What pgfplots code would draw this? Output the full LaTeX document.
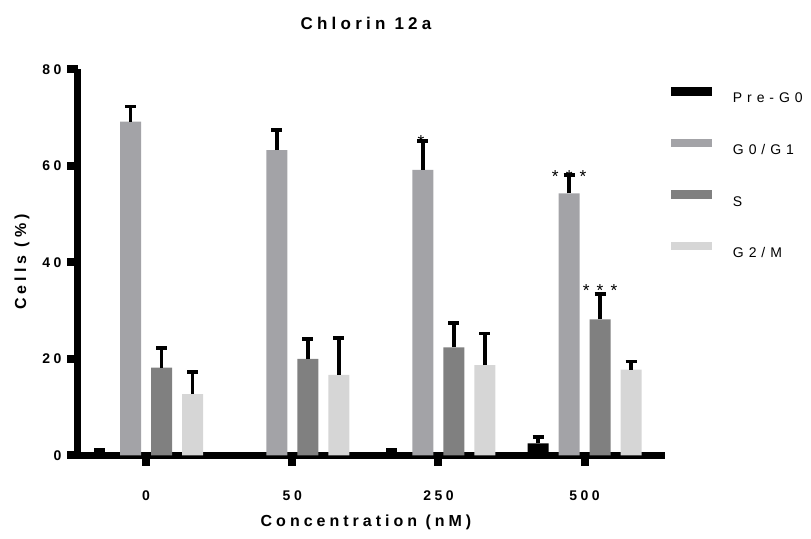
\documentclass[border=0pt]{standalone}
\usepackage{pgfplots}
\pgfplotsset{compat=1.18}
\usepackage{fontspec}
\setmainfont{Liberation Sans}
\newfontfamily\lsfont[LetterSpace=25]{Liberation Sans}
\newfontfamily\legfont[LetterSpace=35]{Liberation Sans}
\definecolor{cA}{RGB}{0,0,0}
\definecolor{cB}{RGB}{163,163,167}
\definecolor{cC}{RGB}{128,128,128}
\definecolor{cD}{RGB}{214,214,214}
\begin{document}
\begin{tikzpicture}
\path[use as bounding box] (-58.5pt,-62.6pt) rectangle (549.75pt,341.6pt);
\begin{axis}[
  at={(0,0)}, anchor=south west,
  scale only axis, width=440.25pt, height=289.5pt,
  xmin=-0.466, xmax=3.55, ymin=0, ymax=80,
  axis x line*=bottom, axis y line*=left,
  axis line style={line width=5.25pt, black},
  ybar=7.5pt, bar width=15.75pt,
  xtick={0,1,2,3}, xticklabels={0,50,250,500},
  ytick={0,20,40,60,80},
  tick align=outside, major tick length=7.9pt,
  tick style={line width=6pt, black},
  ticklabel style={font=\lsfont\bfseries\fontsize{10.5}{12}\selectfont},
  /pgf/number format/assume math mode=true,
  yticklabel style={xshift=-1pt},
  xticklabel style={yshift=-15pt},
  clip=false,
  legend style={at={(1.0102,0.954)}, anchor=north west, draw=none, fill=none,
    inner sep=0pt, outer sep=0pt, row sep=26.95pt, column sep=15.75pt,
    nodes={inner sep=0pt, outer sep=0pt, text height=7.5pt, text depth=0pt,
      font=\legfont\fontsize{10.5}{12}\selectfont}},
  legend cell align=left,
  legend image code/.code={\fill[#1] (0pt,1.7pt) rectangle (30.75pt,8pt);},
  error bars/y dir=plus, error bars/y explicit,
  error bars/error mark=|,
  error bars/error bar style={line width=2.6pt, draw=black, solid},
  error bars/error mark options={line width=2.8pt, mark size=4.1pt, draw=black, black},
]
\addplot[fill=cA, draw=none] coordinates {(0,0.3) +- (0,0.9) (2,0.3) +- (0,0.9) (3,2.5) +- (0,1.4)};
\addplot[fill=cB, draw=none] coordinates {(0,69.2) +- (0,3.1) (1,63.3) +- (0,4.2) (2,59.2) +- (0,6.0) (3,54.3) +- (0,3.8)};
\addplot[fill=cC, draw=none] coordinates {(0,18.2) +- (0,4.1) (1,20.0) +- (0,4.1) (2,22.4) +- (0,5.0) (3,28.2) +- (0,5.2)};
\addplot[fill=cD, draw=none] coordinates {(0,12.7) +- (0,4.6) (1,16.7) +- (0,7.7) (2,18.7) +- (0,6.6) (3,17.8) +- (0,1.7)};
\legend{Pre-G0, G0/G1, S, G2/M}
\node[font=\fontsize{13}{14}\selectfont, anchor=base, inner sep=0pt] at ([xshift=-13pt]axis cs:2,63.9) {*};
\node[font=\fontsize{13}{14}\selectfont, anchor=base, inner sep=0pt] at ([xshift=-11.6pt]axis cs:3,56.5) {*\hspace{5.3pt}*\hspace{5.3pt}*};
\node[font=\fontsize{13}{14}\selectfont, anchor=base, inner sep=0pt] at ([xshift=11.6pt]axis cs:3,32.9) {*\hspace{5.3pt}*\hspace{5.3pt}*};
\end{axis}
\node[font=\lsfont\bfseries\fontsize{12.75}{14}\selectfont, anchor=base] at (216pt,319.1pt) {Chlorin 12a};
\node[font=\lsfont\bfseries\fontsize{12}{14}\selectfont, anchor=base] at (216pt,-53.6pt) {Concentration (nM)};
\node[font=\lsfont\bfseries\fontsize{12}{14}\selectfont, anchor=center, rotate=90] at (-42pt,145.1pt) {Cells (\%)};
\end{tikzpicture}
\end{document}
